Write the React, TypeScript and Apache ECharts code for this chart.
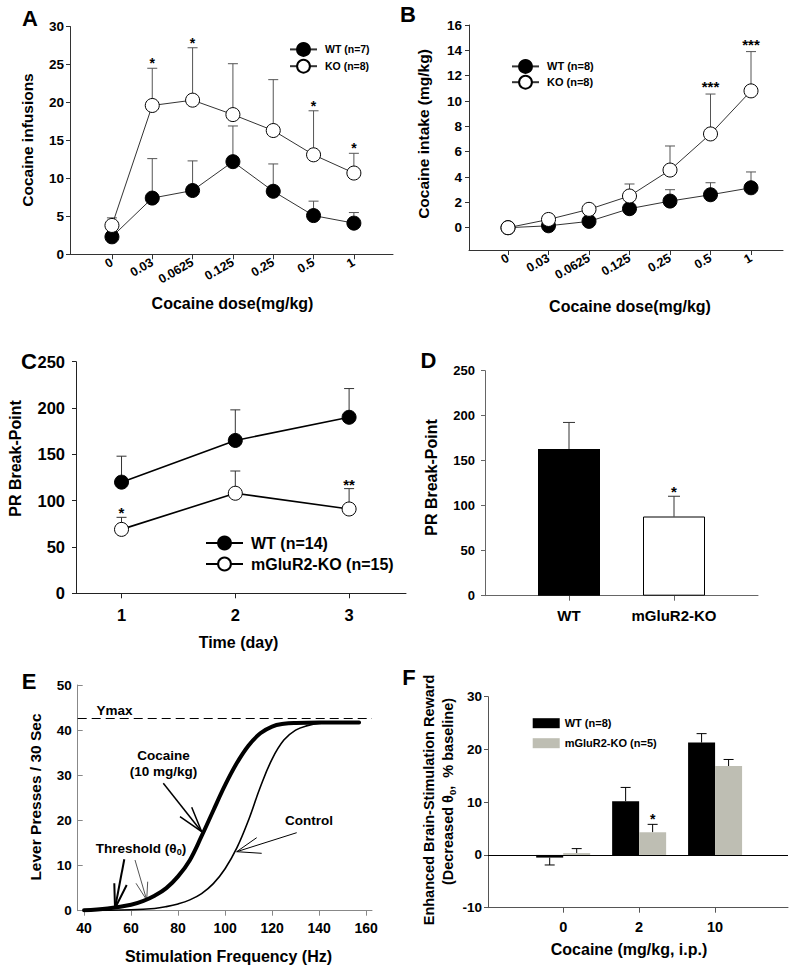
import React, { useEffect, useRef } from 'react';
import * as echarts from 'echarts';

const FONT = 'Liberation Sans, Arial, Helvetica, sans-serif';

// ---------- Panel A ----------
const doseLabels = ['0', '0.03', '0.0625', '0.125', '0.25', '0.5', '1'];
const aWT = [2.3, 7.4, 8.4, 12.2, 8.3, 5.1, 4.1];
const aWTTop = [2.6, 12.6, 12.3, 16.9, 11.9, 7.0, 5.5];
const aKO = [3.8, 19.6, 20.3, 18.4, 16.3, 13.1, 10.7];
const aKOTop = [4.8, 24.5, 27.2, 25.1, 23.0, 18.9, 13.3];
const aSig = ['', '*', '*', '', '', '*', '*'];

// ---------- Panel B ----------
const bYTicks = [0, 2, 4, 6, 8, 10, 12, 14, 16];
const bWT = [0, 0.15, 0.5, 1.5, 2.1, 2.6, 3.15];
const bWTTop = [0, 0.15, 0.5, 1.5, 3.0, 3.55, 4.4];
const bKO = [0, 0.65, 1.45, 2.5, 4.55, 7.4, 10.8];
const bKOTop = [0, 0.65, 1.45, 3.45, 6.45, 10.55, 13.9];
const bSig = ['', '', '', '', '', '***', '***'];

// ---------- Panel C ----------
const cDays = [1, 2, 3];
const cWT = [120, 165, 190];
const cWTTop = [148, 198, 221];
const cKO = [69, 108, 91];
const cKOTop = [82, 132, 113];
const cSig = ['*', '', '**'];

// ---------- Panel D ----------
const dGroups = ['WT', 'mGluR2-KO'];
const dMean = [163, 88];
const dTop = [192.5, 110.5];
const dSig = ['', '*'];

// ---------- Panel E ----------
const eXTicks = [40, 60, 80, 100, 120, 140, 160];
const eCocHz = [40, 50, 60, 65, 70, 75, 80, 85, 90, 95, 100, 105, 110, 115, 120, 125, 130, 140, 157];
const eCoc = [0.1, 0.5, 1.3, 2.1, 3.3, 5.0, 7.6, 11.2, 16.5, 22.2, 27.8, 32.7, 36.6, 39.3, 40.8, 41.4, 41.6, 41.7, 41.7];
const eCtlHz = [40, 60, 70, 75, 80, 85, 90, 95, 100, 105, 110, 115, 120, 125, 130, 135, 140, 150, 157];
const eCtl = [0.05, 0.2, 0.5, 0.9, 1.5, 2.4, 3.8, 6.0, 9.3, 13.9, 20.1, 27.4, 33.6, 37.8, 40.0, 41.0, 41.5, 41.7, 41.7];
const eYmax = 42.6;

// ---------- Panel F ----------
const fDoses = ['0', '2', '10'];
const fWT = [-0.5, 10.2, 21.3];
const fWTEnd = [-1.9, 12.8, 23.0];
const fKO = [0.35, 4.3, 16.85];
const fKOEnd = [1.2, 5.8, 18.1];
const fSig = ['', '*', ''];

const idx = (arr: any[]) => arr.map((_, i) => i);
const pairs = (xs: number[], ys: number[]) => xs.map((x, i) => [x, ys[i]]);

const lab = (size: number, extra: any = {}) => ({
  fontFamily: FONT,
  fontSize: size,
  fontWeight: 'bold',
  color: '#000',
  ...extra,
});

function errBars(xi: number, xs: number[], means: number[], ends: number[], offset: number, color: string, lw: number, cap: number) {
  return {
    type: 'custom',
    xAxisIndex: xi,
    yAxisIndex: xi,
    silent: true,
    z: 1,
    encode: { x: 0, y: [1, 2] },
    data: xs.map((x, i) => [x, means[i], ends[i]]),
    renderItem: (params: any, api: any) => {
      const x = api.value(0);
      const a = api.coord([x, api.value(1)]);
      const b = api.coord([x, api.value(2)]);
      const cx = a[0] + offset;
      return {
        type: 'group',
        children: [
          { type: 'line', shape: { x1: cx, y1: a[1], x2: cx, y2: b[1] }, style: { stroke: color, lineWidth: lw } },
          { type: 'line', shape: { x1: cx - cap, y1: b[1], x2: cx + cap, y2: b[1] }, style: { stroke: color, lineWidth: lw } },
        ],
      };
    },
  };
}

function stars(xi: number, xs: number[], tops: number[], marks: string[], offset: number, size: number, lift: number) {
  return {
    type: 'custom',
    xAxisIndex: xi,
    yAxisIndex: xi,
    silent: true,
    z: 5,
    encode: { x: 0, y: 1 },
    data: xs.map((x, i) => [x, tops[i]]),
    renderItem: (params: any, api: any) => {
      const s = marks[params.dataIndex];
      if (!s) return null;
      const p = api.coord([api.value(0), api.value(1)]);
      return {
        type: 'text',
        x: p[0] + offset,
        y: p[1] - lift,
        style: { text: s, fill: '#000', fontFamily: FONT, fontSize: size, fontWeight: 'bold', align: 'center', verticalAlign: 'top' },
      };
    },
  };
}

function lineSeries(name: string, xi: number, xs: number[], ys: number[], filled: boolean, size: number, lineColor: string, lw: number) {
  return {
    name,
    type: 'line',
    xAxisIndex: xi,
    yAxisIndex: xi,
    data: pairs(xs, ys),
    symbol: 'circle',
    symbolSize: size,
    showSymbol: true,
    z: filled ? 3 : 4,
    lineStyle: { color: lineColor, width: lw },
    itemStyle: { color: filled ? '#000' : '#fff', borderColor: '#000', borderWidth: 1 },
    emphasis: { disabled: true },
  };
}

function axisX(gi: number, min: number, max: number, ticks: number[], fmt: (v: number) => string, color: string, labelOpt: any) {
  return {
    type: 'value',
    gridIndex: gi,
    min,
    max,
    splitLine: { show: false },
    axisLine: { show: true, onZero: false, lineStyle: { color, width: 1 } },
    axisTick: { show: true, customValues: ticks, length: 5, lineStyle: { color } },
    axisLabel: { customValues: ticks, formatter: fmt, ...labelOpt },
  };
}

function axisY(gi: number, min: number, max: number, interval: number | undefined, color: string, labelOpt: any, tickOpt: any = {}, custom?: number[]) {
  const ax: any = {
    type: 'value',
    gridIndex: gi,
    min,
    max,
    splitLine: { show: false },
    axisLine: { show: true, onZero: false, lineStyle: { color, width: 1 } },
    axisTick: { show: true, length: 4, lineStyle: { color }, ...tickOpt },
    axisLabel: { ...labelOpt },
  };
  if (interval !== undefined) ax.interval = interval;
  if (custom) {
    ax.axisTick.customValues = custom;
    ax.axisLabel.customValues = custom;
  }
  return ax;
}

const gt = (text: string, x: number, y: number, size: number, rot = 0, align = 'center', extra: any = {}) => ({
  type: 'text',
  x,
  y,
  rotation: rot,
  silent: true,
  style: { text, fill: '#000', fontFamily: FONT, fontSize: size, fontWeight: 'bold', align, verticalAlign: 'middle', ...extra },
});

const arrow = (tail: number[], tip: number[], h1: number[], h2: number[], w: number, color: string) => [
  { type: 'line', silent: true, shape: { x1: tail[0], y1: tail[1], x2: tip[0], y2: tip[1] }, style: { stroke: color, lineWidth: w } },
  { type: 'polyline', silent: true, shape: { points: [h1, tip, h2] }, style: { stroke: color, lineWidth: w, fill: null } },
];

export default function App() {
  const ref = useRef<HTMLDivElement>(null);
  useEffect(() => {
    if (!ref.current) return;
    const chart = echarts.init(ref.current, undefined, { renderer: 'svg' });
    const aX = idx(doseLabels);
    const dX = dGroups.map((_, i) => i + 1);
    const fX = idx(fDoses);
    const gridBase = { containLabel: false, outerBoundsMode: 'none' };

    const option: any = {
      animation: false,
      backgroundColor: '#fff',
      textStyle: { fontFamily: FONT },
      grid: [
        { left: 70, top: 26.5, width: 323, height: 227.8, ...gridBase },
        { left: 469, top: 25, width: 314, height: 225, ...gridBase },
        { left: 76, top: 361.7, width: 330, height: 231.6, ...gridBase },
        { left: 485, top: 370.7, width: 273, height: 225, ...gridBase },
        { left: 77.7, top: 685, width: 294.3, height: 225.7, ...gridBase },
        { left: 488, top: 696.7, width: 300, height: 211, ...gridBase },
      ],
      xAxis: [
        axisX(0, -1.04, 6.97, aX, (v) => doseLabels[Math.round(v)] ?? '', '#333', { rotate: 30, margin: 7, ...lab(12.5) }),
        axisX(1, -0.963, 6.79, aX, (v) => doseLabels[Math.round(v)] ?? '', '#333', { rotate: 30, margin: 7, ...lab(12.5) }),
        axisX(2, 0.6, 3.5, cDays, (v) => String(v), '#222', { margin: 13, ...lab(16.5) }),
        axisX(3, 0.2, 2.8, dX, (v) => dGroups[Math.round(v) - 1] ?? '', '#666', { margin: 12, ...lab(15) }),
        axisX(4, 37.3, 162.5, eXTicks, (v) => String(v), '#888', { margin: 10, ...lab(14) }),
        axisX(5, -0.99, 2.96, fX, (v) => fDoses[Math.round(v)] ?? '', '#555', { margin: 12, ...lab(14.5) }),
      ],
      yAxis: [
        axisY(0, 0, 30, 5, '#333', { margin: 6, ...lab(13.5) }),
        axisY(1, -1.76, 16, undefined, '#333', { margin: 7, ...lab(13.5) }, {}, bYTicks),
        axisY(2, 0, 250, 50, '#222', { margin: 11, ...lab(16.5) }),
        axisY(3, 0, 250, 50, '#666', { margin: 10, ...lab(13) }),
        axisY(4, 0, 50, 10, '#888', { margin: 6, ...lab(13.5) }, { inside: true, length: 5 }),
        axisY(5, -10, 30, 10, '#555', { margin: 6, ...lab(13.5) }),
      ],
      legend: [
        {
          data: ['WT (n=7)', 'KO (n=8)'], orient: 'vertical', left: 284, top: 37, itemWidth: 27, itemHeight: 16, itemGap: 2,
          textStyle: lab(10.5, { padding: [0, 0, 0, 3] }), selectedMode: false,
        },
        {
          data: ['WT (n=8)', 'KO (n=8)'], orient: 'vertical', left: 506, top: 54, itemWidth: 27, itemHeight: 16, itemGap: 1,
          textStyle: lab(11, { padding: [0, 0, 0, 3] }), selectedMode: false,
        },
        {
          data: ['WT (n=14)', 'mGluR2-KO (n=15)'], orient: 'vertical', left: 200, top: 530, itemWidth: 37, itemHeight: 16, itemGap: 5,
          textStyle: lab(16, { padding: [0, 0, 0, 3] }), selectedMode: false,
        },
        {
          data: ['WT (n=8) ', 'mGluR2-KO (n=5)'], orient: 'vertical', left: 527.7, top: 712.7, itemWidth: 27, itemHeight: 10, itemGap: 9,
          icon: 'rect', textStyle: lab(11), selectedMode: false,
        },
      ],
      series: [
        // A
        errBars(0, aX, aWT, aWTTop, 0, '#555', 1, 5),
        errBars(0, aX, aKO, aKOTop, 0, '#555', 1, 5),
        lineSeries('WT (n=7)', 0, aX, aWT, true, 14, '#333', 1),
        lineSeries('KO (n=8)', 0, aX, aKO, false, 14, '#333', 1),
        stars(0, aX, aKOTop, aSig, 0, 14, 12),
        // B
        errBars(1, aX, bWT, bWTTop, 0, '#555', 1, 5),
        errBars(1, aX, bKO, bKOTop, 0, '#555', 1, 5),
        lineSeries('WT (n=8)', 1, aX, bWT, true, 14, '#333', 1),
        lineSeries('KO (n=8)', 1, aX, bKO, false, 14, '#333', 1),
        stars(1, aX, bKOTop, bSig, 0, 15, 15),
        // C
        errBars(2, cDays, cWT, cWTTop, 0, '#333', 1, 5),
        errBars(2, cDays, cKO, cKOTop, 0, '#333', 1, 5),
        lineSeries('WT (n=14)', 2, cDays, cWT, true, 14, '#000', 1.6),
        lineSeries('mGluR2-KO (n=15)', 2, cDays, cKO, false, 14, '#000', 1.6),
        stars(2, cDays, cKOTop, cSig, 0, 15, 12),
        // D
        {
          type: 'bar', xAxisIndex: 3, yAxisIndex: 3, barWidth: 62, z: 2, silent: true,
          data: dX.map((x, i) => ({
            value: [x, dMean[i]],
            itemStyle: i === 0 ? { color: '#000' } : { color: '#fff', borderColor: '#000', borderWidth: 1 },
          })),
        },
        errBars(3, dX, dMean, dTop, 0, '#333', 1, 6),
        stars(3, dX, dTop, dSig, 0, 15, 12),
        // E
        {
          name: 'Cocaine', type: 'line', xAxisIndex: 4, yAxisIndex: 4, data: pairs(eCocHz, eCoc), symbol: 'none',
          smooth: 0.4, lineStyle: { color: '#000', width: 4, join: 'round', cap: 'round' }, silent: true, z: 3,
        },
        {
          name: 'Control', type: 'line', xAxisIndex: 4, yAxisIndex: 4, data: pairs(eCtlHz, eCtl), symbol: 'none',
          smooth: 0.4, lineStyle: { color: '#000', width: 1.6 }, silent: true, z: 3,
          markLine: {
            silent: true, symbol: ['none', 'none'], label: { show: false },
            lineStyle: { color: '#000', width: 1.2, type: [9, 5] },
            data: [{ yAxis: eYmax }],
          },
        },
        // F
        {
          name: 'WT (n=8) ', type: 'bar', xAxisIndex: 5, yAxisIndex: 5, barWidth: 27, barGap: '0%', z: 2, silent: true,
          itemStyle: { color: '#000' }, data: pairs(fX, fWT),
          markLine: {
            silent: true, symbol: ['none', 'none'], label: { show: false },
            lineStyle: { color: '#000', width: 1, type: 'solid' }, data: [{ yAxis: 0 }],
          },
        },
        {
          name: 'mGluR2-KO (n=5)', type: 'bar', xAxisIndex: 5, yAxisIndex: 5, barWidth: 27, barGap: '0%', z: 2, silent: true,
          itemStyle: { color: '#bebeb3' }, data: pairs(fX, fKO),
        },
        errBars(5, fX, fWT, fWTEnd, -13.5, '#000', 1, 5),
        errBars(5, fX, fKO, fKOEnd, 13.5, '#000', 1, 5),
        stars(5, fX, fKOEnd, fSig, 13.5, 14, 12),
      ],
      graphic: [
        // panel letters
        gt('A', 30, 18.5, 22),
        gt('B', 408, 14, 22),
        gt('C', 29, 361.5, 22),
        gt('D', 428.5, 360.5, 22),
        gt('E', 29, 681, 22),
        gt('F', 409, 677.5, 22),
        // axis titles
        gt('Cocaine infusions', 27, 140, 15.5, Math.PI / 2),
        gt('Cocaine dose(mg/kg)', 232.5, 303, 16),
        gt('Cocaine intake (mg/kg)', 423, 134, 15.5, Math.PI / 2),
        gt('Cocaine dose(mg/kg)', 630, 306, 16),
        gt('PR Break-Point', 15, 458.5, 16, Math.PI / 2),
        gt('Time (day)', 238.5, 642, 16),
        gt('PR Break-Point', 431.5, 477.5, 16, Math.PI / 2),
        gt('Lever Presses / 30 Sec', 35, 797, 15.5, Math.PI / 2),
        gt('Stimulation Frequency (Hz)', 228.5, 956, 16),
        gt('Enhanced Brain-Stimulation Reward', 428.5, 800, 14.5, Math.PI / 2),
        {
          type: 'text', x: 447.5, y: 791.5, rotation: Math.PI / 2, silent: true,
          style: {
            text: '{b|(Decreased θ}{s|0}{b|,  % baseline)}',
            align: 'center', verticalAlign: 'middle', fill: '#000',
            rich: {
              b: { fontFamily: FONT, fontSize: 14.5, fontWeight: 'bold', fill: '#000' },
              s: { fontFamily: FONT, fontSize: 9.5, fontWeight: 'bold', fill: '#000', padding: [9, 0, 0, 0] },
            },
          },
        },
        gt('Cocaine (mg/kg, i.p.)', 629, 949, 16),
        // panel E annotations
        gt('Ymax', 96.5, 710.5, 13.5, 0, 'left'),
        gt('Cocaine', 163.5, 755, 13.5),
        gt('(10 mg/kg)', 163.5, 771, 13.5),
        gt('Control', 309, 820, 13.5),
        {
          type: 'text', x: 141, y: 848, silent: true,
          style: {
            text: '{b|Threshold (θ}{s|0}{b|)}',
            align: 'center', verticalAlign: 'middle', fill: '#000',
            rich: {
              b: { fontFamily: FONT, fontSize: 13.5, fontWeight: 'bold', fill: '#000' },
              s: { fontFamily: FONT, fontSize: 9, fontWeight: 'bold', fill: '#000', padding: [8, 0, 0, 0] },
            },
          },
        },
        ...arrow([163.3, 783.3], [201.7, 831.7], [191.7, 807.3], [180, 816.7], 1.5, '#000'),
        ...arrow([296.7, 832.7], [236.7, 851.7], [256.7, 837.7], [261.7, 853.3], 1, '#000'),
        ...arrow([124.3, 859.3], [115, 908.3], [114.3, 883.3], [126.7, 885], 2, '#000'),
        ...arrow([135, 860], [146.7, 900], [147.7, 881.7], [136, 883.3], 1, '#555'),
      ],
    };
    chart.setOption(option);
    return () => chart.dispose();
  }, []);
  return (
    <div
      ref={ref}
      style={{ position: 'absolute', left: 0, top: 0, width: 800, height: 969, background: '#fff' }}
    />
  );
}
